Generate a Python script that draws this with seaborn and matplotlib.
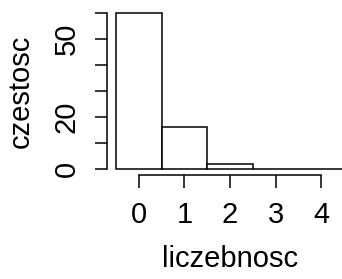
import numpy as np
import pandas as pd
import seaborn as sns
import matplotlib.pyplot as plt


liczebnosc = [0, 1, 2, 3, 4]
czestosc = [60, 16, 2, 0, 0]
y_ticks = [0, 10, 20, 30, 40, 50, 60]
y_labels = ["0", "", "20", "", "", "50", ""]

sns.set_theme(style="ticks")
plt.rcParams['font.family'] = ['Liberation Sans', 'DejaVu Sans']
plt.rcParams['text.color'] = 'black'
plt.rcParams['axes.labelcolor'] = 'black'
plt.rcParams['xtick.color'] = 'black'
plt.rcParams['ytick.color'] = 'black'

df = pd.DataFrame({"liczebnosc": liczebnosc, "czestosc": czestosc})

fig = plt.figure(figsize=(3.42, 2.79), dpi=100)
# plot region runs past the right edge, like the original
ax = fig.add_axes([107 / 342, 104 / 279, 246 / 342, 168.2 / 279])

sns.histplot(data=df, x="liczebnosc", weights="czestosc", discrete=True,
             color="white", edgecolor="black", linewidth=1.1, alpha=1,
             ax=ax)

ax.set_xlim(-0.7, 4.7)
ax.set_ylim(-2.4, 62.4)

for side in ["top", "right"]:
    ax.spines[side].set_visible(False)
for side in ["left", "bottom"]:
    ax.spines[side].set_linewidth(1.1)
    ax.spines[side].set_color("black")
ax.spines["left"].set_bounds(0, 60)
ax.spines["bottom"].set_bounds(0, 4)

ax.set_xticks(liczebnosc)
ax.set_xticklabels([str(v) for v in liczebnosc])
ax.set_yticks(y_ticks)
ax.set_yticklabels(y_labels, rotation=90, va="center")

ax.tick_params(axis="both", direction="out", length=9, width=1.1,
               colors="black", labelsize=21, pad=10)

ax.set_xlabel("liczebnosc", fontsize=21, labelpad=11)
ax.set_ylabel("czestosc", fontsize=21, labelpad=13)

plt.savefig("out.png", dpi=100)
